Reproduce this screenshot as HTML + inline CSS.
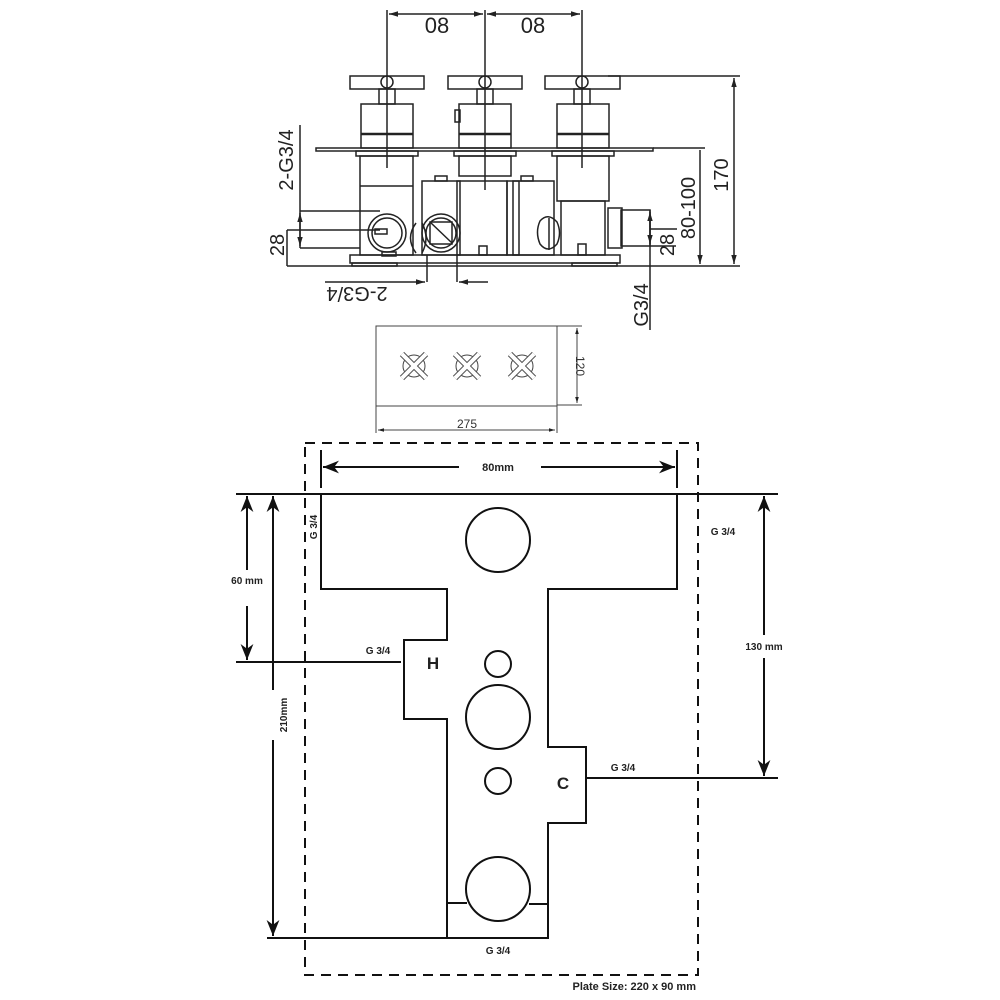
<!DOCTYPE html>
<html><head><style>html,body{margin:0;padding:0;background:#fff}svg{display:block}</style></head>
<body>
<svg width="1000" height="1000" viewBox="0 0 1000 1000" xmlns="http://www.w3.org/2000/svg" font-family="Liberation Sans, sans-serif">
<defs>
<marker id="a" viewBox="0 0 10 10" refX="10" refY="5" markerWidth="8" markerHeight="8" orient="auto-start-reverse"><path d="M0,1 L10,5 L0,9 L3,5z" fill="#111"/></marker>
<marker id="s" viewBox="0 0 10 10" refX="10" refY="5" markerWidth="6" markerHeight="6" orient="auto-start-reverse"><path d="M0,2 L10,5 L0,8z" fill="#222"/></marker>
</defs>
<!-- TOP DRAWING -->
<g stroke="#222" stroke-width="1.5" fill="none">
<line x1="387" y1="10" x2="387" y2="168"/><line x1="485" y1="10" x2="485" y2="190"/><line x1="582" y1="10" x2="582" y2="168"/>
<line x1="389" y1="14" x2="483" y2="14" marker-start="url(#s)" marker-end="url(#s)"/>
<line x1="487" y1="14" x2="580" y2="14" marker-start="url(#s)" marker-end="url(#s)"/>
<rect x="350" y="76" width="74" height="13"/><rect x="448" y="76" width="74" height="13"/><rect x="545" y="76" width="75" height="13"/>
<circle cx="387" cy="82" r="6"/><circle cx="485" cy="82" r="6"/><circle cx="582" cy="82" r="6"/>
<rect x="379" y="89" width="16" height="15"/><rect x="477" y="89" width="16" height="15"/><rect x="574" y="89" width="16" height="15"/>
<rect x="361" y="104" width="52" height="44"/><line x1="361" y1="134" x2="413" y2="134" stroke-width="2.5"/>
<rect x="459" y="104" width="52" height="44"/><line x1="459" y1="134" x2="511" y2="134" stroke-width="2.5"/>
<rect x="455" y="110" width="5" height="12"/>
<rect x="557" y="104" width="52" height="44"/><line x1="557" y1="134" x2="609" y2="134" stroke-width="2.5"/>
<rect x="316" y="148" width="337" height="3"/>
<rect x="356" y="151" width="62" height="5"/><rect x="454" y="151" width="62" height="5"/><rect x="552" y="151" width="62" height="5"/>
<rect x="360" y="156" width="53" height="99"/><line x1="360" y1="186" x2="413" y2="186"/>
<rect x="459" y="156" width="52" height="20"/>
<rect x="457" y="181" width="50" height="74"/><rect x="422" y="181" width="38" height="74"/><rect x="435" y="176" width="12" height="5"/>
<rect x="507" y="181" width="47" height="74"/><rect x="513" y="181" width="6" height="74"/><rect x="521" y="176" width="12" height="5"/>
<rect x="557" y="156" width="52" height="45"/><rect x="561" y="201" width="44" height="54"/>
<rect x="621" y="210" width="29" height="36"/><rect x="608" y="208" width="14" height="40"/>
<path d="M540,221 Q548,212 557,222 Q562,233 557,244 Q548,254 540,244 Q535,232 540,221z"/>
<line x1="549" y1="218" x2="549" y2="250"/>
<path d="M416,223 Q405,238 416,253" /><path d="M422,223 Q430,238 422,253"/>
<circle cx="387" cy="233" r="19"/><circle cx="387" cy="233" r="15"/><rect x="375" y="229" width="12" height="5"/>
<circle cx="441" cy="233" r="19"/><circle cx="441" cy="233" r="15"/><rect x="430" y="222" width="22" height="22"/><line x1="430" y1="222" x2="452" y2="243"/>
<rect x="479" y="246" width="8" height="9"/><rect x="578" y="244" width="8" height="11"/>
<rect x="382" y="252" width="14" height="4"/>
<rect x="350" y="255" width="270" height="8"/>
<rect x="352" y="263" width="45" height="3"/><rect x="572" y="263" width="45" height="3"/>
<line x1="287" y1="266" x2="740" y2="266"/>
<line x1="608" y1="76" x2="740" y2="76"/><line x1="653" y1="148" x2="705" y2="148"/>
<line x1="734" y1="78" x2="734" y2="264" marker-start="url(#s)" marker-end="url(#s)"/>
<line x1="700" y1="150" x2="700" y2="264" marker-end="url(#s)"/>
<line x1="650" y1="210" x2="650" y2="330"/>
<line x1="650" y1="229" x2="677" y2="229"/><line x1="650" y1="246" x2="676" y2="246"/>
<line x1="650" y1="212" x2="650" y2="244" marker-start="url(#s)" marker-end="url(#s)"/>
<line x1="300" y1="125" x2="300" y2="248"/>
<line x1="300" y1="211" x2="380" y2="211"/><line x1="287" y1="230" x2="380" y2="230"/><line x1="300" y1="248" x2="360" y2="248"/>
<line x1="300" y1="213" x2="300" y2="246" marker-start="url(#s)" marker-end="url(#s)"/>
<line x1="287" y1="230" x2="287" y2="266"/>
<line x1="427" y1="255" x2="427" y2="282"/><line x1="457" y1="255" x2="457" y2="282"/>
<line x1="325" y1="282" x2="425" y2="282" marker-end="url(#s)"/><line x1="488" y1="282" x2="459" y2="282" marker-end="url(#s)"/>
</g>
<g fill="#222" font-size="20">
<text x="437" y="33" text-anchor="middle" font-size="22">08</text>
<text x="533" y="33" text-anchor="middle" font-size="22">08</text>
<text transform="translate(293,160) rotate(-90)" text-anchor="middle">2-G3/4</text>
<text transform="translate(284,245) rotate(-90)" text-anchor="middle">28</text>
<text transform="translate(357,287) rotate(180)" text-anchor="middle">2-G3/4</text>
<text transform="translate(648,305) rotate(-90)" text-anchor="middle">G3/4</text>
<text transform="translate(674,245) rotate(-90)" text-anchor="middle">28</text>
<text transform="translate(695,208) rotate(-90)" text-anchor="middle">80-100</text>
<text transform="translate(728,175) rotate(-90)" text-anchor="middle">170</text>
</g>
<g stroke="#444" stroke-width="1" fill="none">
<rect x="376" y="326" width="181" height="80"/>
<line x1="376" y1="406" x2="376" y2="433"/><line x1="557" y1="406" x2="557" y2="433"/>
<line x1="378" y1="430" x2="555" y2="430" marker-start="url(#s)" marker-end="url(#s)"/>
<line x1="557" y1="326" x2="582" y2="326"/><line x1="557" y1="405" x2="582" y2="405"/>
<line x1="577" y1="328" x2="577" y2="403" marker-start="url(#s)" marker-end="url(#s)"/>
<g id="x"><circle cx="414" cy="366" r="11"/><g stroke-width="6" stroke="#555"><line x1="402" y1="354" x2="426" y2="378"/><line x1="426" y1="354" x2="402" y2="378"/></g><g stroke-width="4" stroke="#fff"><line x1="402" y1="354" x2="426" y2="378"/><line x1="426" y1="354" x2="402" y2="378"/></g></g>
<use href="#x" x="53"/><use href="#x" x="108"/>
</g>
<text x="467" y="428" font-size="12" text-anchor="middle" fill="#333">275</text>
<text transform="translate(576,366) rotate(90)" font-size="12" text-anchor="middle" fill="#333">120</text>
<g stroke="#111" stroke-width="2" fill="none">
<rect x="305" y="443" width="393" height="532" stroke-dasharray="10,7"/>
<line x1="321" y1="450" x2="321" y2="488"/><line x1="677" y1="450" x2="677" y2="488"/>
<line x1="459" y1="467" x2="323" y2="467" marker-end="url(#a)"/><line x1="541" y1="467" x2="675" y2="467" marker-end="url(#a)"/>
<line x1="236" y1="494" x2="778" y2="494"/>
<path d="M321,494 L677,494 L677,589 L548,589 L548,747 L586,747 L586,823 L548,823 L548,938 L447,938 L447,719 L404,719 L404,640 L447,640 L447,589 L321,589 Z"/>
<circle cx="498" cy="540" r="32"/><circle cx="498" cy="664" r="13"/><circle cx="498" cy="717" r="32"/><circle cx="498" cy="781" r="13"/><circle cx="498" cy="889" r="32"/>
<line x1="447" y1="903" x2="467" y2="903"/><line x1="529" y1="904" x2="548" y2="904"/>
<line x1="236" y1="662" x2="401" y2="662"/>
<line x1="247" y1="570" x2="247" y2="496" marker-end="url(#a)"/><line x1="247" y1="606" x2="247" y2="660" marker-end="url(#a)"/>
<line x1="273" y1="690" x2="273" y2="496" marker-end="url(#a)"/><line x1="273" y1="740" x2="273" y2="936" marker-end="url(#a)"/>
<line x1="267" y1="938" x2="548" y2="938"/>
<line x1="764" y1="635" x2="764" y2="496" marker-end="url(#a)"/><line x1="764" y1="658" x2="764" y2="776" marker-end="url(#a)"/>
<line x1="586" y1="778" x2="778" y2="778"/>
</g>
<g fill="#222" font-size="10" font-weight="bold">
<text x="498" y="471" text-anchor="middle" font-size="11">80mm</text>
<text x="247" y="584" text-anchor="middle">60 mm</text>
<text transform="translate(287,715) rotate(-90)" text-anchor="middle">210mm</text>
<text x="764" y="650" text-anchor="middle">130 mm</text>
<text transform="translate(317,527) rotate(-90)" text-anchor="middle">G 3/4</text>
<text x="723" y="535" text-anchor="middle">G 3/4</text>
<text x="378" y="654" text-anchor="middle">G 3/4</text>
<text x="623" y="771" text-anchor="middle">G 3/4</text>
<text x="498" y="954" text-anchor="middle">G 3/4</text>
<text x="696" y="990" text-anchor="end" font-size="11">Plate Size: 220 x 90 mm</text>
<text x="433" y="669" text-anchor="middle" font-size="17">H</text>
<text x="563" y="789" text-anchor="middle" font-size="17">C</text>
</g>
</svg>
</body></html>
